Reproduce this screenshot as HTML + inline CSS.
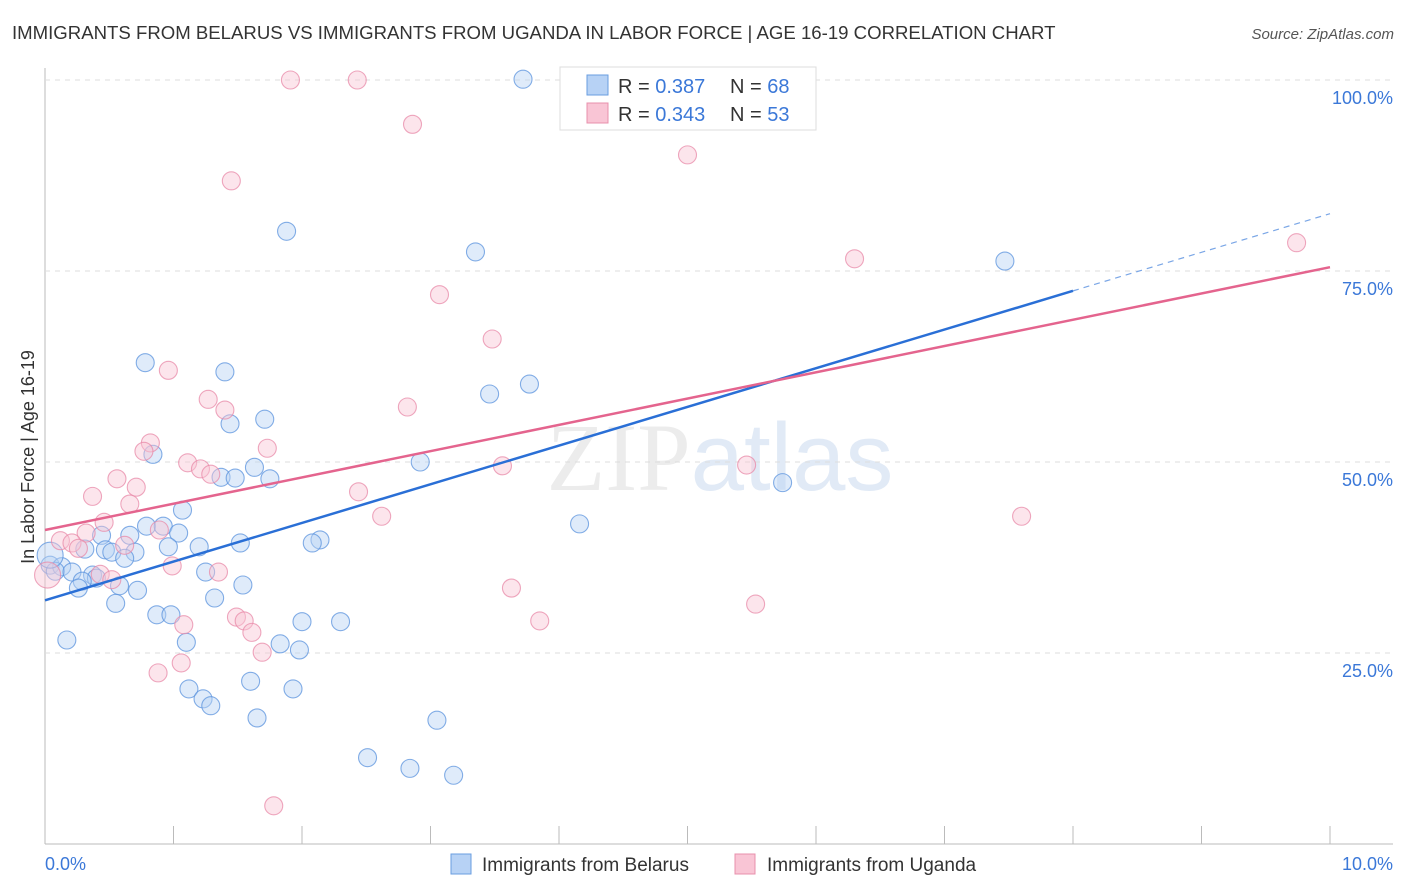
<!DOCTYPE html>
<html><head><meta charset="utf-8"><style>
body{margin:0;background:#fff;font-family:"Liberation Sans",sans-serif}
svg{display:block}
</style></head><body>
<svg width="1406" height="892" id="chart">
<text x="12" y="39" font-size="18.6" fill="#333">IMMIGRANTS FROM BELARUS VS IMMIGRANTS FROM UGANDA IN LABOR FORCE | AGE 16-19 CORRELATION CHART</text>
<text x="1394" y="39" font-size="15" fill="#555" font-style="italic" text-anchor="end">Source: ZipAtlas.com</text>
<text x="720" y="490" font-size="96" fill="#ececec" text-anchor="middle" font-family="Liberation Serif">ZIP<tspan fill="#e1eaf6" font-family="Liberation Sans">atlas</tspan></text>
<g id="grid"></g><g id="pts"></g><g id="lines"></g>
<text transform="translate(34,457) rotate(-90)" font-size="18" fill="#333" text-anchor="middle">In Labor Force | Age 16-19</text>
<text x="45" y="870" font-size="18" fill="#3b78d8">0.0%</text>
<text x="1393" y="870" font-size="18" fill="#3b78d8" text-anchor="end">10.0%</text>
<g>
<rect x="560" y="67" width="256" height="63" fill="#fff" stroke="#ddd"/>
<rect x="587" y="75" width="21" height="20" fill="#b7d2f5" stroke="#6a9ee0"/>
<rect x="587" y="103" width="21" height="20" fill="#f9c5d5" stroke="#e890ac"/>
<text x="618" y="93" font-size="20" fill="#333">R = <tspan fill="#3b78d8">0.387</tspan></text>
<text x="730" y="93" font-size="20" fill="#333">N = <tspan fill="#3b78d8">68</tspan></text>
<text x="618" y="121" font-size="20" fill="#333">R = <tspan fill="#3b78d8">0.343</tspan></text>
<text x="730" y="121" font-size="20" fill="#333">N = <tspan fill="#3b78d8">53</tspan></text>
</g>
<g>
<rect x="451" y="854" width="20" height="20" fill="#b7d2f5" stroke="#6a9ee0"/>
<text x="482" y="871" font-size="19" fill="#333">Immigrants from Belarus</text>
<rect x="735" y="854" width="20" height="20" fill="#f9c5d5" stroke="#e890ac"/>
<text x="767" y="871" font-size="19" fill="#333">Immigrants from Uganda</text>
</g>
</svg>
<script>
const yTicks=[25,50,75,100];
const yTickLabels=["25.0%","50.0%","75.0%","100.0%"];
const xTicks=[0,1,2,3,4,5,6,7,8,9,10];
const belarusX=[3.72,4.33,1.88,3.35,7.47,0.78,1.40,3.77,3.46,1.71,1.44,0.84,2.92,1.63,1.37,1.48,1.75,5.74,1.07,4.16,0.79,0.92,1.04,0.66,0.44,2.14,2.08,1.52,1.20,0.96,0.31,0.47,0.52,0.70,0.62,0.04,0.13,0.08,0.21,1.25,0.37,0.40,0.29,1.54,0.58,0.26,0.72,1.32,0.55,0.87,0.98,2.00,2.30,1.10,0.17,1.83,1.98,1.60,1.12,1.93,1.23,1.29,1.65,3.05,2.51,2.84,3.18,0.04];
const belarusY=[100.1,100,80.2,77.5,76.3,63.0,61.8,60.2,58.9,55.6,55.0,51.0,50.0,49.3,48.0,47.9,47.8,47.3,43.7,41.9,41.6,41.6,40.7,40.4,40.4,39.8,39.4,39.4,38.9,38.9,38.6,38.5,38.2,38.2,37.4,36.5,36.3,35.7,35.6,35.6,35.2,34.8,34.4,33.9,33.8,33.5,33.2,32.2,31.5,30.0,30.0,29.1,29.1,26.4,26.7,26.2,25.4,21.3,20.3,20.3,19.0,18.1,16.5,16.2,11.3,9.9,9.0,37.8];
const ugandaX=[1.91,2.43,2.86,5.00,1.45,9.74,6.30,3.07,3.48,0.96,1.27,2.82,1.40,0.82,0.77,1.73,1.11,5.46,3.56,1.21,1.29,0.56,0.71,0.37,2.44,0.66,2.62,7.60,0.46,0.89,0.32,0.12,0.21,0.62,0.26,0.99,1.35,0.43,0.52,3.63,5.53,1.49,1.55,3.85,1.61,1.08,1.69,1.06,0.88,1.78,0.02];
const ugandaY=[100,100,94.2,90.2,86.8,78.7,76.6,71.9,66.1,62.0,58.2,57.2,56.8,52.5,51.4,51.8,49.9,49.6,49.5,49.1,48.4,47.8,46.7,45.5,46.1,44.5,42.9,42.9,42.1,41.1,40.7,39.7,39.4,39.1,38.7,36.4,35.6,35.3,34.6,33.5,31.4,29.7,29.2,29.2,27.7,28.7,25.1,23.7,22.4,5.0,35.2];
const belarusTrend=[31.9,72.4,82.5];
const ugandaTrend=[41.1,75.5];
const sx=v=>45+v*128.5, sy=v=>844-v*7.64;
const NS="http://www.w3.org/2000/svg";
function mk(tag,attrs,parent){const e=document.createElementNS(NS,tag);for(const k in attrs)e.setAttribute(k,attrs[k]);document.getElementById(parent).appendChild(e);return e;}
let ax=mk('line',{x1:45,y1:68,x2:45,y2:844,stroke:'#bbb'},'grid');


let bx=mk('line',{x1:45,y1:844,x2:1393,y2:844,stroke:'#bbb'},'grid');


yTicks.forEach((t,i)=>{
 let g=mk('line',{x1:45,y1:sy(t),x2:1393,y2:sy(t),stroke:'#ddd','stroke-dasharray':'5,5'},'grid');
 
 
 let l=mk('text',{x:1393,y:sy(t)+24,'font-size':18,fill:'#3b78d8','text-anchor':'end'},'grid');
 l.textContent=yTickLabels[i];
 
 
});
xTicks.forEach(t=>{
 let k=mk('line',{x1:sx(t),y1:826,x2:sx(t),y2:844,stroke:'#bbb'},'grid');
 
 
});
function pts(X,Y,fill,stroke,name){X.forEach((x,i)=>{
 const big=(i===X.length-1);
 let c=mk('circle',{cx:sx(x),cy:sy(Y[i]),r:big?13:9,fill:fill,'fill-opacity':0.45,stroke:stroke,'stroke-opacity':0.75,'stroke-width':1.1},'pts');
 
 
});}
pts(belarusX,belarusY,'#b7d2f5','#5b93dd','belarus-point');
pts(ugandaX,ugandaY,'#f9c5d5','#e88aa8','uganda-point');
let b1=mk('line',{x1:sx(0),y1:sy(belarusTrend[0]),x2:sx(8),y2:sy(belarusTrend[1]),stroke:'#2a6fd6','stroke-width':2.5},'lines');


let b2=mk('line',{x1:sx(8),y1:sy(belarusTrend[1]),x2:sx(10),y2:sy(belarusTrend[2]),stroke:'#7aa6e6','stroke-width':1.2,'stroke-dasharray':'6,5'},'lines');


let u1=mk('line',{x1:sx(0),y1:sy(ugandaTrend[0]),x2:sx(10),y2:sy(ugandaTrend[1]),stroke:'#e4648e','stroke-width':2.5},'lines');


</script>
</body></html>
